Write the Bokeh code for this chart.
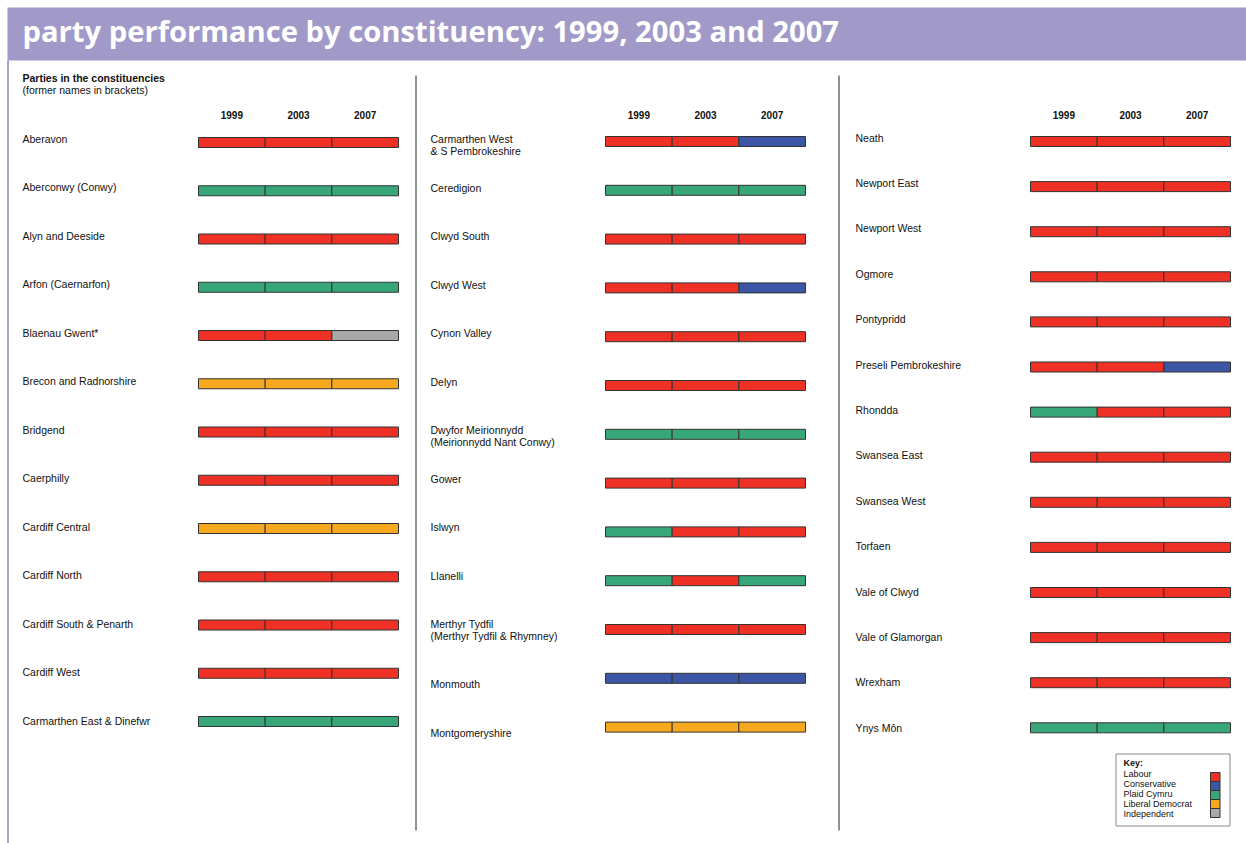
from bokeh.plotting import figure
from bokeh.models import Range1d, ColumnDataSource
from bokeh.core.properties import value
from bokeh.embed import file_html
from bokeh.resources import INLINE

# ---------------- data ----------------
years = ["1999", "2003", "2007"]

party_names = ["Labour", "Conservative", "Plaid Cymru", "Liberal Democrat", "Independent"]
party_codes = ["LAB", "CON", "PC", "LD", "IND"]
party_colors = ["#ee3124", "#3a56a5", "#37a77a", "#f6a81f", "#a8a8a8"]

col1_names = ["Aberavon", "Aberconwy (Conwy)", "Alyn and Deeside", "Arfon (Caernarfon)",
              "Blaenau Gwent*", "Brecon and Radnorshire", "Bridgend", "Caerphilly",
              "Cardiff Central", "Cardiff North", "Cardiff South & Penarth",
              "Cardiff West", "Carmarthen East & Dinefwr"]
col1_results = [["LAB", "LAB", "LAB"], ["PC", "PC", "PC"], ["LAB", "LAB", "LAB"],
                ["PC", "PC", "PC"], ["LAB", "LAB", "IND"], ["LD", "LD", "LD"],
                ["LAB", "LAB", "LAB"], ["LAB", "LAB", "LAB"], ["LD", "LD", "LD"],
                ["LAB", "LAB", "LAB"], ["LAB", "LAB", "LAB"], ["LAB", "LAB", "LAB"],
                ["PC", "PC", "PC"]]

col2_names = ["Carmarthen West\n& S Pembrokeshire", "Ceredigion", "Clwyd South", "Clwyd West",
              "Cynon Valley", "Delyn", "Dwyfor Meirionnydd\n(Meirionnydd Nant Conwy)", "Gower",
              "Islwyn", "Llanelli", "Merthyr Tydfil\n(Merthyr Tydfil & Rhymney)", "Monmouth",
              "Montgomeryshire"]
col2_results = [["LAB", "LAB", "CON"], ["PC", "PC", "PC"], ["LAB", "LAB", "LAB"],
                ["LAB", "LAB", "CON"], ["LAB", "LAB", "LAB"], ["LAB", "LAB", "LAB"],
                ["PC", "PC", "PC"], ["LAB", "LAB", "LAB"], ["PC", "LAB", "LAB"],
                ["PC", "LAB", "PC"], ["LAB", "LAB", "LAB"], ["CON", "CON", "CON"],
                ["LD", "LD", "LD"]]

col3_names = ["Neath", "Newport East", "Newport West", "Ogmore", "Pontypridd",
              "Preseli Pembrokeshire", "Rhondda", "Swansea East", "Swansea West", "Torfaen",
              "Vale of Clwyd", "Vale of Glamorgan", "Wrexham", "Ynys Môn"]
col3_results = [["LAB", "LAB", "LAB"], ["LAB", "LAB", "LAB"], ["LAB", "LAB", "LAB"],
                ["LAB", "LAB", "LAB"], ["LAB", "LAB", "LAB"], ["LAB", "LAB", "CON"],
                ["PC", "LAB", "LAB"], ["LAB", "LAB", "LAB"], ["LAB", "LAB", "LAB"],
                ["LAB", "LAB", "LAB"], ["LAB", "LAB", "LAB"], ["LAB", "LAB", "LAB"],
                ["LAB", "LAB", "LAB"], ["PC", "PC", "PC"]]

title_text = "party performance by constituency: 1999, 2003 and 2007"
header_bold = "Parties in the constituencies"
header_sub = "(former names in brackets)"
key_title = "Key:"

# ---------------- layout ----------------
W, H = 1246, 843
FONT = value("Liberation Sans")
color_of = dict(zip(party_codes, party_colors))

# (names, results, label x, bar left, first bar y, bar step, first text y, text step,
#  extra label shift applied from a given row index onward)
columns = [
    (col1_names, col1_results, 22, 198, 142, 48.25, 138.5, 48.5, (99, 0)),
    (col2_names, col2_results, 430, 605, 141, 48.8, 139, 48.5, (11, 11.5)),
    (col3_names, col3_results, 855, 1030, 141, 45.1, 137.5, 45.4, (99, 0)),
]
BAR_W = 200.0
BAR_H = 10.0

p = figure(width=W, height=H, x_range=Range1d(0, W), y_range=Range1d(H, 0),
           output_backend="svg", toolbar_location=None, min_border=0,
           x_axis_location=None, y_axis_location=None,
           background_fill_color="white", border_fill_color="white")
p.outline_line_color = None
p.xgrid.visible = False
p.ygrid.visible = False

# banner
p.quad(left=[7], right=[W], top=[7], bottom=[60], fill_color="#a19ac9", line_color=None)
p.text(x=[22], y=[30.5], text=[title_text], text_color="white", text_font=value("Open Sans"),
       text_font_style="bold", text_font_size="29.2px", text_baseline="middle")
# left purple rule
p.segment(x0=[7.5], y0=[60], x1=[7.5], y1=[H], line_color="#8d85c2", line_width=1.5)

# column dividers
p.segment(x0=[415.5, 838.5], y0=[75, 75], x1=[415.5, 838.5], y1=[830, 830],
          line_color="#222222", line_width=1)

# header text
p.text(x=[22], y=[77.5], text=[header_bold], text_font=FONT, text_font_style="bold",
       text_font_size="10.5px", text_baseline="middle", text_color="#111111")
p.text(x=[22], y=[89.5], text=[header_sub], text_font=FONT,
       text_font_size="10.5px", text_baseline="middle", text_color="#111111")

seg_l, seg_r, seg_t, seg_b, seg_c = [], [], [], [], []
lab_x, lab_y, lab_t = [], [], []
yr_x, yr_y, yr_t = [], [], []
for names, results, lx, bx, by0, bstep, ty0, tstep, (shift_from, shift) in columns:
    seg = BAR_W / len(years)
    for j, yr in enumerate(years):
        yr_x.append(bx + seg * (j + 0.5))
        yr_y.append(114)
        yr_t.append(yr)
    for i, (nm, res) in enumerate(zip(names, results)):
        by = by0 + bstep * i
        ty = ty0 + tstep * i + (shift if i >= shift_from else 0)
        lab_x.append(lx)
        lab_y.append(ty - 6.5)
        lab_t.append(nm)
        for j, code in enumerate(res):
            seg_l.append(bx + seg * j)
            seg_r.append(bx + seg * (j + 1))
            seg_t.append(by - BAR_H / 2)
            seg_b.append(by + BAR_H / 2)
            seg_c.append(color_of[code])

src = ColumnDataSource(dict(left=seg_l, right=seg_r, top=seg_t, bottom=seg_b, color=seg_c))
p.quad(left="left", right="right", top="top", bottom="bottom", fill_color="color",
       line_color="#333333", line_width=1, source=src)

p.text(x=lab_x, y=lab_y, text=lab_t, text_font=FONT, text_font_size="10.5px",
       text_baseline="top", text_line_height=0.98, text_color="#111111")
p.text(x=yr_x, y=yr_y, text=yr_t, text_font=FONT, text_font_style="bold",
       text_font_size="10px", text_baseline="middle", text_align="center", text_color="#111111")

# key
p.quad(left=[1115.5], right=[1229.5], top=[753.5], bottom=[825.5], fill_color="white",
       line_color="#8a8a8a", line_width=1)
p.text(x=[1123], y=[762.5], text=[key_title], text_font=FONT, text_font_style="bold",
       text_font_size="9px", text_baseline="middle", text_color="#111111")
k_top = 772
k_h = 9
p.text(x=[1123] * len(party_names), y=[773.5 + 10 * i for i in range(len(party_names))],
       text=party_names, text_font=FONT, text_font_size="9px", text_baseline="middle",
       text_color="#111111")
p.quad(left=[1210] * len(party_names), right=[1219.5] * len(party_names),
       top=[k_top + k_h * i for i in range(len(party_names))],
       bottom=[k_top + k_h * (i + 1) for i in range(len(party_names))],
       fill_color=party_colors, line_color="#333333", line_width=1)

open("out.html", "w").write(file_html(p, INLINE))
